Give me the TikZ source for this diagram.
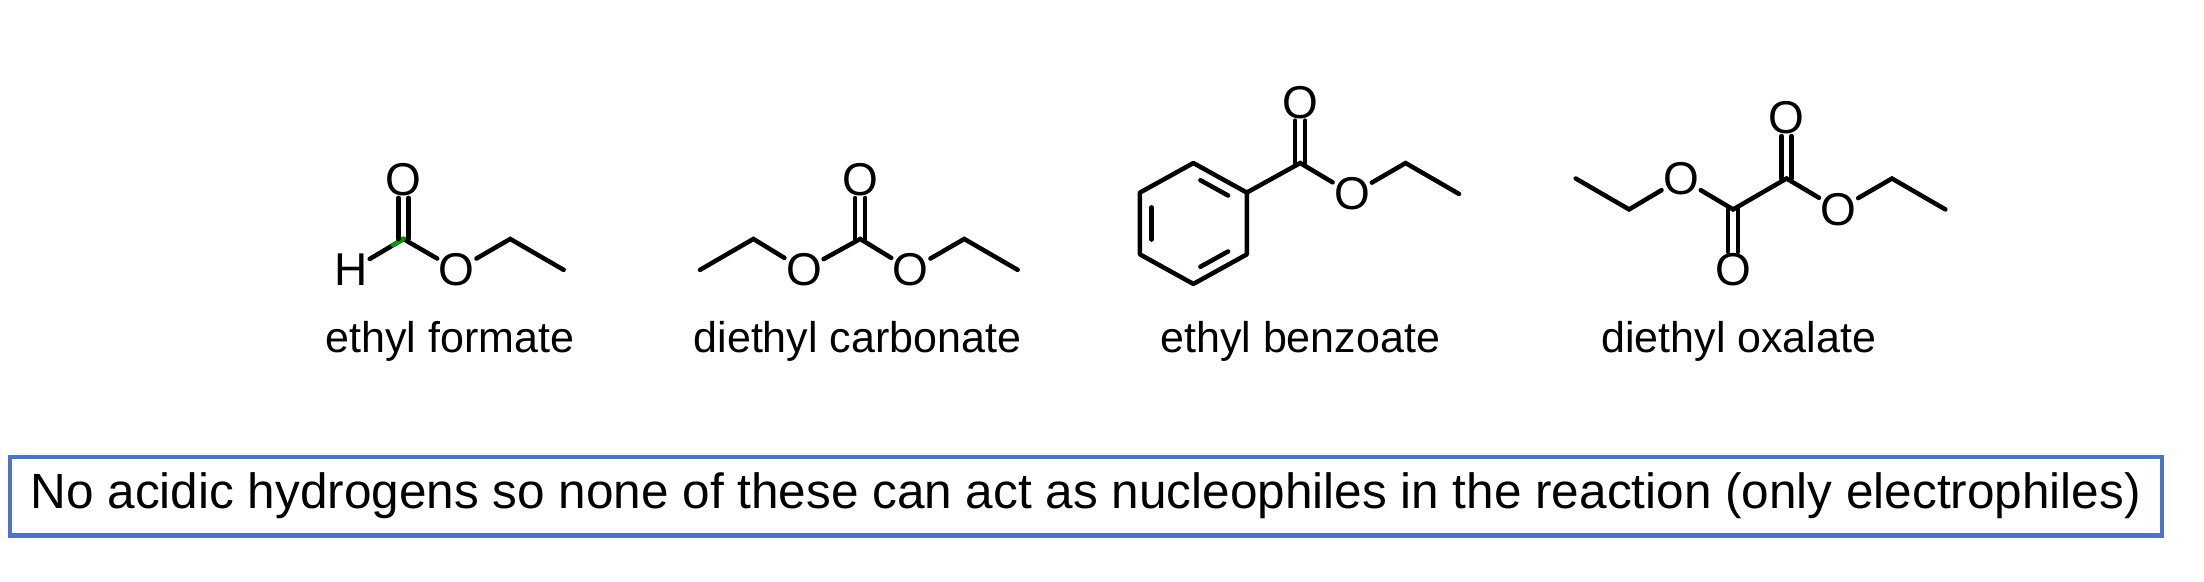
\documentclass[tikz,border=0pt]{standalone}
\usepackage{fontspec}
\setmainfont{Liberation Sans}
\usetikzlibrary{calc}
\begin{document}
\begin{tikzpicture}[x=1.4056pt,y=-1.4056pt,
  bond/.style={line width=4.5pt,line cap=round},
  atom/.style={font=\fontsize{46}{52}\selectfont,inner sep=1.5pt},
  lbl/.style={font=\fontsize{43}{50}\selectfont}]
\useasboundingbox (0,0) rectangle (1568,414);
% ethyl formate
\node[atom] (f1O) at (287,128) {O};
\coordinate (f1C) at (287,170);
\node[atom] (f1H) at (250,192) {H};
\node[atom] (f1Oe) at (325,192) {O};
\coordinate (f1a) at (363,170);
\coordinate (f1b) at (401,192);
\draw[bond] (f1H) -- (f1C) -- (f1Oe) -- (f1a) -- (f1b);
\draw[bond,green!60!black] ($(f1C)!0.2!(f1H)$) -- (f1C);
\draw[bond] ([xshift=-5pt]f1C) -- ([xshift=-5pt]f1O.south);
\draw[bond] ([xshift=5pt]f1C) -- ([xshift=5pt]f1O.south);
\node[lbl] (f1L) at (320,243) {ethyl formate};
% diethyl carbonate
\coordinate (c1a) at (498,192);
\coordinate (c1b) at (536,170);
\node[atom] (c1O1) at (572,192) {O};
\coordinate (c1C) at (612,170);
\node[atom] (c1O) at (612,128) {O};
\node[atom] (c1O2) at (648,192) {O};
\coordinate (c1c) at (686,170);
\coordinate (c1d) at (724,192);
\draw[bond] (c1a) -- (c1b) -- (c1O1) -- (c1C) -- (c1O2) -- (c1c) -- (c1d);
\draw[bond] ([xshift=-5pt]c1C) -- ([xshift=-5pt]c1O.south);
\draw[bond] ([xshift=5pt]c1C) -- ([xshift=5pt]c1O.south);
\node[lbl] (c1L) at (610,243) {diethyl carbonate};
% ethyl benzoate
\coordinate (bz) at (849,159);
\coordinate (r1) at (849,116);
\coordinate (r2) at (887,137);
\coordinate (r3) at (887,181);
\coordinate (r4) at (849,202);
\coordinate (r5) at (811,181);
\coordinate (r6) at (811,137);
\draw[bond,line join=round] (r1) -- (r2) -- (r3) -- (r4) -- (r5) -- (r6) -- cycle;
\foreach \a/\b in {r1/r2,r3/r4,r5/r6}
  \draw[bond,shorten <=8pt,shorten >=8pt] ($(bz)!0.78!(\a)$) -- ($(bz)!0.78!(\b)$);
\coordinate (bC) at (925,116);
\node[atom] (bO) at (925,73) {O};
\node[atom] (bOe) at (962,138) {O};
\coordinate (ba) at (1000,116);
\coordinate (bb) at (1038,138);
\draw[bond] (r2) -- (bC) -- (bOe) -- (ba) -- (bb);
\draw[bond] ([xshift=-5pt]bC) -- ([xshift=-5pt]bO.south);
\draw[bond] ([xshift=5pt]bC) -- ([xshift=5pt]bO.south);
\node[lbl] (bL) at (925,243) {ethyl benzoate};
% diethyl oxalate
\coordinate (oa) at (1121,127);
\coordinate (ob) at (1159,149);
\node[atom] (oO1) at (1196,127) {O};
\coordinate (oC1) at (1233,149);
\node[atom] (oOb) at (1233,192) {O};
\coordinate (oC2) at (1271,127);
\node[atom] (oOt) at (1271,84) {O};
\node[atom] (oO2) at (1308,149) {O};
\coordinate (oc) at (1346,127);
\coordinate (od) at (1384,149);
\draw[bond] (oa) -- (ob) -- (oO1) -- (oC1) -- (oC2) -- (oO2) -- (oc) -- (od);
\draw[bond] ([xshift=-5pt]oC1) -- ([xshift=-5pt]oOb.north);
\draw[bond] ([xshift=5pt]oC1) -- ([xshift=5pt]oOb.north);
\draw[bond] ([xshift=-5pt]oC2) -- ([xshift=-5pt]oOt.south);
\draw[bond] ([xshift=5pt]oC2) -- ([xshift=5pt]oOt.south);
\node[lbl] (oL) at (1237,243) {diethyl oxalate};
% box
\node[draw={rgb,255:red,78;green,114;blue,196},line width=4.5pt,minimum width=1531*1.4056pt,minimum height=56*1.4056pt,
  font=\fontsize{49.5}{58}\selectfont] (box) at (772.5,353) {No acidic hydrogens so none of these can act as nucleophiles in the reaction (only electrophiles)};
\end{tikzpicture}
\end{document}
